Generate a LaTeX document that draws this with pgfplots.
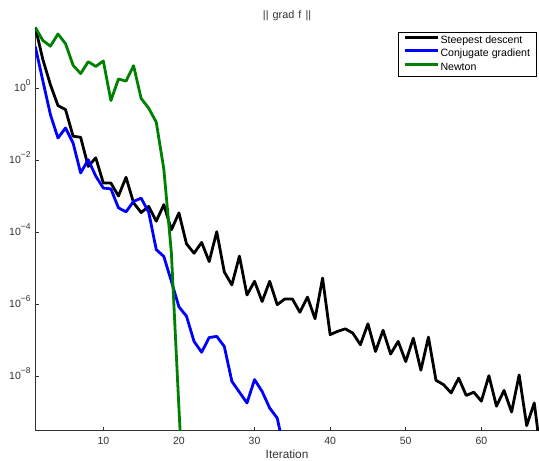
\documentclass[border=0pt]{standalone}
\usepackage{fontspec}
\setmainfont{Liberation Sans}
\usepackage{pgfplots}
\pgfplotsset{compat=1.18}
\definecolor{mgreen}{RGB}{0,128,0}
\definecolor{mblue}{RGB}{0,0,255}
\definecolor{axgray}{RGB}{50,50,50}
\newcommand{\tl}[1]{10\raisebox{6pt}{\fontsize{8.5}{9}\selectfont #1}}
\begin{document}
\begin{tikzpicture}
\useasboundingbox (-35.3pt,-30.3pt) rectangle (503.7pt,430.7pt);
\begin{axis}[
  scale only axis, width=503.5pt, height=403.9pt,
  at={(0,0)}, anchor=south west,
  xmin=1, xmax=67.6,
  ymode=log, ymin=3.02e-10, ymax=50.1,
  /pgf/number format/assume math mode=true,
  axis x line*=bottom, axis y line*=left,
  axis line style={axgray, line width=0.9pt},
  tick align=inside,
  major tick length=3.5pt,
  major tick style={axgray, line width=0.8pt},
  yminorticks=false, xminorticks=false,
  xtick={10,20,30,40,50,60},
  xticklabels={10,20,30,40,50,60},
  ytick={1e-8,1e-6,1e-4,1e-2,1},
  yticklabels={\tl{−8},\tl{−6},\tl{−4},\tl{−2},\tl{0}},
  tick label style={font=\fontsize{10.5}{12}\selectfont, text=axgray},
  xticklabel style={anchor=north, inner sep=0pt, yshift=-6pt},
  yticklabel style={anchor=base east, inner sep=0pt, xshift=-4.5pt, yshift=-3.7pt},
  every axis title shift=0pt,
  title={||\hspace{0.38em}grad\hspace{0.38em}f\hspace{0.38em}||},
  title style={at={(axis description cs:0.5,1)}, anchor=south, inner sep=0pt, yshift=6.2pt, font=\fontsize{10.8}{12}\selectfont, text=axgray},
  xlabel={Iteration},
  every axis x label/.style={at={(axis description cs:0.5,0)}, anchor=north, inner sep=0pt, yshift=-19.3pt, font=\fontsize{11.8}{13}\selectfont, text=axgray},
  legend style={at={(axis description cs:0.9964,0.987)}, anchor=north east, draw=black, line width=0.8pt, fill=white,
    font=\fontsize{10.6}{12}\selectfont, inner xsep=5pt, inner ysep=1.5pt, row sep=0pt,
    nodes={inner sep=1.5pt, text height=8pt, text depth=2.5pt}},
  legend cell align=left,
  legend image code/.code={\draw[#1, line width=3pt] (0pt,3.5pt) -- (33pt,3.5pt);},
  every axis plot/.append style={line width=2.8pt, line join=round},
]
\addplot[black] coordinates {
(1,49.0) (2,6.17) (3,1.23) (4,0.324) (5,0.251) (6,0.0457) (7,0.0427) (8,0.00661) (9,0.0115) (10,0.00229)
(11,0.00229) (12,0.001) (13,0.00331) (14,6.46e-4) (15,3.47e-4) (16,5.13e-4) (17,2.0e-4) (18,5.75e-4) (19,1.15e-4) (20,3.39e-4)
(21,4.68e-5) (22,2.57e-5) (23,5.13e-5) (24,1.51e-5) (25,1.02e-4) (26,7.76e-6) (27,3.39e-6) (28,2.14e-5) (29,1.78e-6) (30,4.27e-6)
(31,1.17e-6) (32,4.27e-6) (33,9.55e-7) (34,1.38e-6) (35,1.38e-6) (36,5.89e-7) (37,1.55e-6) (38,3.89e-7) (39,5.25e-6) (40,1.41e-7)
(41,1.74e-7) (42,2.04e-7) (43,1.55e-7) (44,7.41e-8) (45,2.82e-7) (46,4.79e-8) (47,1.86e-7) (48,4.07e-8) (49,9.12e-8) (50,2.51e-8)
(51,1.12e-7) (52,1.45e-8) (53,1.20e-7) (54,7.59e-9) (55,5.75e-9) (56,3.39e-9) (57,8.71e-9) (58,2.88e-9) (59,3.55e-9) (60,2.0e-9)
(61,1.02e-8) (62,1.45e-9) (63,3.98e-9) (64,1.0e-9) (65,1.07e-8) (66,4.17e-10) (67,1.78e-9) (68,4.0e-11)
};
\addlegendentry{Steepest descent}
\addplot[mblue] coordinates {
(1,14.1) (2,1.58) (3,0.182) (4,0.0407) (5,0.0776) (6,0.0295) (7,0.00437) (8,0.0102) (9,0.00355) (10,0.00166)
(11,0.00158) (12,4.68e-4) (13,3.63e-4) (14,7.08e-4) (15,8.71e-4) (16,3.55e-4) (17,3.24e-5) (18,2.09e-5) (19,4.27e-6) (20,8.32e-7)
(21,4.57e-7) (22,9.12e-8) (23,4.57e-8) (24,1.17e-7) (25,1.26e-7) (26,6.61e-8) (27,7.08e-9) (28,3.55e-9) (29,1.78e-9) (30,7.94e-9)
(31,3.72e-9) (32,1.29e-9) (33,6.76e-10) (34,7.4e-11)
};
\addlegendentry{Conjugate gradient}
\addplot[mgreen] coordinates {
(1,47.9) (2,20.9) (3,14.5) (4,31.6) (5,17.0) (6,4.27) (7,2.51) (8,5.37) (9,3.98) (10,5.62)
(11,0.447) (12,1.78) (13,1.55) (14,4.17) (15,0.513) (16,0.275) (17,0.112) (18,0.0056) (19,2.63e-5) (20,1.26e-9)
(21,1e-13)
};
\addlegendentry{Newton}
\end{axis}
\end{tikzpicture}
\end{document}
